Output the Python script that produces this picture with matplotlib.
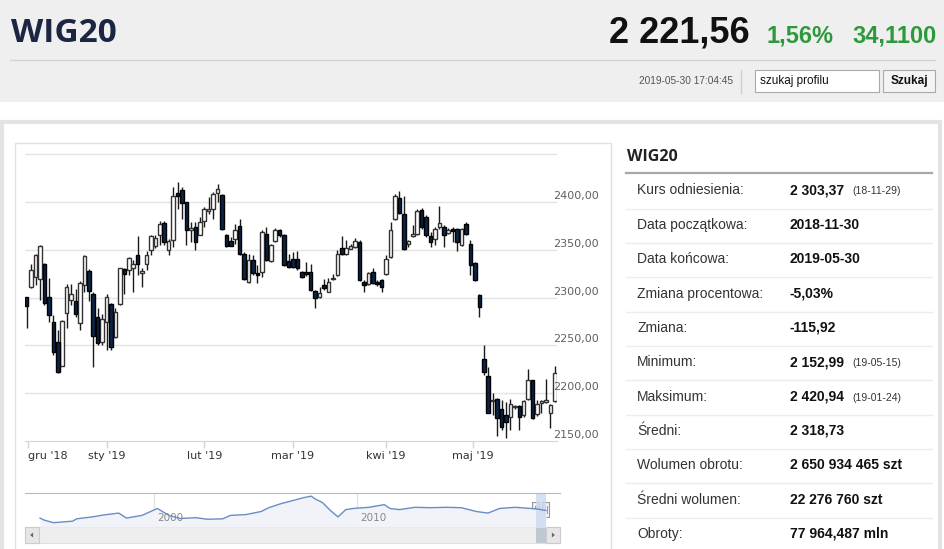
import numpy as np
import matplotlib
matplotlib.use('Agg')
from matplotlib import pyplot as plt
from matplotlib.patches import Rectangle, Polygon

W, H = 945, 549

# one candle per session, 2018-11-30 .. 2019-05-30
opens = [2300.4, 2310.8, 2321.9, 2319.1, 2334.8, 2300.4, 2275.0, 2253.2, 2228.9, 2283.8,
         2297.6, 2296.6, 2273.3, 2313.2, 2327.8, 2303.9, 2279.6, 2253.2, 2275.0, 2293.1,
         2258.4, 2293.1, 2329.6, 2328.9, 2331.3, 2344.5, 2325.4, 2335.8, 2350.4, 2354.0,
         2366.0, 2378.5, 2349.7, 2360.1, 2409.7, 2413.2, 2400.0, 2370.5, 2374.0, 2366.0,
         2379.9, 2390.3, 2393.1, 2409.7, 2407.6, 2366.0, 2359.1, 2361.1, 2375.0, 2346.2,
         2316.0, 2339.3, 2325.4, 2327.1, 2367.0, 2338.2, 2359.1, 2370.5, 2365.3, 2338.2,
         2340.3, 2341.0, 2326.4, 2327.1, 2327.1, 2307.0, 2301.1, 2313.2, 2306.3, 2319.1,
         2323.7, 2352.1, 2346.2, 2351.4, 2353.2, 2358.4, 2316.0, 2313.9, 2327.1, 2316.7,
         2318.5, 2324.4, 2342.7, 2382.0, 2404.2, 2387.9, 2356.6, 2364.3, 2367.0, 2392.0,
         2384.4, 2364.6, 2361.8, 2374.0, 2374.0, 2368.1, 2372.2, 2372.2, 2354.9, 2377.4,
         2356.6, 2336.8, 2302.8, 2236.1, 2217.7, 2192.0, 2194.4, 2184.0, 2177.1, 2174.7,
         2185.1, 2186.5, 2177.1, 2194.4, 2213.5, 2178.1, 2189.9, 2191.0, 2179.5, 2191.9]
highs = [2301.0, 2334.8, 2345.9, 2355.6, 2336.0, 2320.9, 2282.0, 2265.7, 2276.5, 2314.0,
         2314.0, 2309.0, 2317.4, 2344.5, 2329.6, 2306.3, 2289.0, 2282.7, 2303.9, 2294.9,
         2289.7, 2331.3, 2330.6, 2342.7, 2339.3, 2364.3, 2331.3, 2348.6, 2365.3, 2366.0,
         2380.0, 2379.9, 2361.8, 2415.6, 2420.9, 2415.6, 2400.7, 2379.2, 2379.2, 2384.4,
         2394.8, 2405.2, 2410.4, 2419.5, 2408.7, 2367.0, 2363.6, 2377.4, 2382.6, 2348.0,
         2346.2, 2344.5, 2334.1, 2370.5, 2374.0, 2356.6, 2372.9, 2371.5, 2367.0, 2346.2,
         2348.0, 2348.6, 2327.8, 2337.5, 2334.8, 2308.0, 2311.5, 2319.5, 2320.2, 2324.4,
         2349.7, 2364.6, 2360.1, 2356.6, 2362.5, 2360.1, 2318.5, 2327.1, 2331.3, 2318.5,
         2319.5, 2344.5, 2379.2, 2408.7, 2412.1, 2406.9, 2360.0, 2375.7, 2393.1, 2393.8,
         2386.1, 2368.8, 2374.0, 2396.5, 2375.7, 2372.5, 2374.0, 2373.0, 2373.0, 2379.2,
         2360.1, 2337.5, 2303.5, 2251.0, 2227.4, 2200.3, 2195.5, 2192.7, 2191.0, 2194.4,
         2187.5, 2187.5, 2192.7, 2225.0, 2214.0, 2193.4, 2193.4, 2215.3, 2189.2, 2228.1]
lows = [2268.8, 2309.8, 2313.0, 2297.6, 2292.4, 2275.0, 2240.4, 2221.3, 2228.2, 2268.8,
        2292.4, 2280.3, 2265.7, 2306.3, 2296.6, 2227.2, 2250.1, 2250.8, 2244.9, 2244.9,
        2257.7, 2292.4, 2303.5, 2323.7, 2306.3, 2323.7, 2311.5, 2328.9, 2344.5, 2352.0,
        2354.9, 2355.6, 2344.5, 2353.2, 2393.1, 2382.6, 2354.9, 2358.4, 2349.7, 2365.3,
        2374.0, 2387.9, 2382.6, 2400.0, 2370.5, 2353.2, 2353.8, 2356.6, 2344.5, 2318.5,
        2315.0, 2323.7, 2315.0, 2321.9, 2338.0, 2337.5, 2358.4, 2363.6, 2333.4, 2330.6,
        2331.3, 2328.9, 2320.9, 2323.0, 2307.0, 2288.9, 2300.1, 2308.0, 2305.6, 2318.1,
        2323.0, 2345.2, 2345.2, 2350.7, 2352.1, 2317.4, 2306.3, 2313.2, 2313.9, 2312.6,
        2306.3, 2323.7, 2341.7, 2380.9, 2387.9, 2349.7, 2353.2, 2363.6, 2366.0, 2372.2,
        2363.6, 2353.1, 2354.9, 2372.2, 2353.1, 2367.0, 2358.0, 2348.6, 2354.2, 2366.0,
        2324.3, 2317.4, 2280.2, 2218.8, 2178.8, 2177.1, 2155.2, 2161.5, 2153.0, 2161.5,
        2183.0, 2161.5, 2174.7, 2193.4, 2172.9, 2176.0, 2178.8, 2189.9, 2163.2, 2190.9]
closes = [2291.7, 2328.9, 2345.2, 2354.2, 2294.2, 2282.0, 2242.8, 2222.3, 2275.8, 2310.8,
          2303.9, 2282.7, 2315.0, 2343.4, 2307.0, 2260.2, 2252.5, 2277.5, 2301.1, 2248.0,
          2285.5, 2330.6, 2324.7, 2341.7, 2335.8, 2334.8, 2328.2, 2344.5, 2364.3, 2363.0,
          2377.4, 2358.4, 2359.1, 2406.2, 2406.2, 2399.3, 2370.5, 2372.9, 2358.4, 2379.2,
          2393.1, 2393.1, 2408.7, 2413.9, 2371.5, 2354.2, 2354.2, 2370.5, 2346.2, 2319.5,
          2339.3, 2325.4, 2323.7, 2368.8, 2339.3, 2354.9, 2371.2, 2365.3, 2334.1, 2332.3,
          2332.3, 2330.6, 2321.9, 2324.4, 2308.0, 2300.1, 2304.6, 2309.8, 2316.0, 2320.2,
          2346.2, 2346.2, 2352.1, 2354.2, 2359.4, 2318.5, 2313.2, 2325.4, 2315.0, 2313.9,
          2311.5, 2341.0, 2370.5, 2406.9, 2388.9, 2350.7, 2359.1, 2367.0, 2391.3, 2374.0,
          2366.0, 2358.3, 2372.2, 2378.5, 2365.3, 2371.2, 2370.1, 2358.3, 2372.2, 2367.0,
          2334.0, 2318.4, 2290.6, 2222.2, 2179.5, 2192.7, 2173.6, 2164.2, 2170.1, 2188.5,
          2186.5, 2175.4, 2191.7, 2213.5, 2173.6, 2188.5, 2191.7, 2192.4, 2188.2, 2221.6]

month_pos = [0.3, 18.0, 40.0, 60.0, 81.0, 100.6]
month_labels = ["gru '18", "sty '19", "lut '19", "mar '19", "kwi '19", "maj '19"]
grid_levels = [2200, 2250, 2300, 2350, 2400, 2450]
price_labels = [2150, 2200, 2250, 2300, 2350, 2400]

# long history shown in the navigator
nav_years = [1994.41, 1994.60, 1995.07, 1996.02, 1996.21, 1996.97, 1997.54, 1998.29, 1998.67,
             1999.43, 2000.19, 2000.76, 2001.32, 2002.08, 2002.65, 2003.41, 2003.79, 2004.55,
             2005.30, 2005.68, 2006.25, 2006.82, 2007.39, 2007.77, 2007.96, 2008.33, 2008.71,
             2009.09, 2009.47, 2009.85, 2010.61, 2011.37, 2011.65, 2012.12, 2012.88, 2013.64,
             2014.40, 2015.16, 2015.91, 2016.48, 2017.05, 2017.81, 2018.57, 2018.85, 2019.33]
nav_values = [1335, 1110, 795, 975, 1245, 1470, 1695, 1920, 1335,
              1650, 2460, 1650, 1290, 1380, 1200, 1245, 1650, 1740,
              2100, 2550, 3000, 3360, 3720, 3900, 3585, 3135, 2235,
              1470, 2325, 2460, 2595, 2910, 2460, 2325, 2595, 2550,
              2595, 2550, 2100, 1920, 2460, 2595, 2460, 2415, 2222]
nav_ticks = [2000, 2010]
nav_range = [2018.84, 2019.33]

stat_labels = ['Kurs odniesienia:', 'Data początkowa:', 'Data końcowa:', 'Zmiana procentowa:',
               'Zmiana:', 'Minimum:', 'Maksimum:', 'Średni:', 'Wolumen obrotu:',
               'Średni wolumen:', 'Obroty:']
stat_values = ['2 303,37', '2018-11-30', '2019-05-30', '-5,03%', '-115,92', '2 152,99',
               '2 420,94', '2 318,73', '2 650 934 465 szt', '22 276 760 szt', '77 964,487 mln']
stat_notes = ['(18-11-29)', '', '', '', '', '(19-05-15)', '(19-01-24)', '', '', '', '']

ARIAL = ['Liberation Sans', 'DejaVu Sans']
OPEN = ['Open Sans', 'DejaVu Sans']

fig = plt.figure(figsize=(W / 100, H / 100), dpi=100)


def px_axes(x0, y0, x1, y1):
    return fig.add_axes([x0 / W, 1 - y1 / H, (x1 - x0) / W, (y1 - y0) / H])


# page background, in pixel coordinates
bg = fig.add_axes([0, 0, 1, 1])
bg.set_xlim(0, W)
bg.set_ylim(H, 0)
bg.axis('off')
bg.add_patch(Rectangle((0, 0), W, 102, fc='#efefef', ec='none'))
bg.plot([10, 935], [60, 60], color='#d2d2d2', lw=1)
bg.text(11, 33, 'WIG20', family=OPEN, weight='bold', fontsize=24, color='#1c2541', va='center')
bg.text(750, 33, '2 221,56', family=ARIAL, weight='bold', fontsize=26, color='#111111',
        va='center', ha='right')
bg.text(767, 36, '1,56%', family=ARIAL, weight='bold', fontsize=17, color='#2c9a3c', va='center')
bg.text(937, 36, '34,1100', family=ARIAL, weight='bold', fontsize=17, color='#2c9a3c',
        va='center', ha='right')
bg.text(733, 81, '2019-05-30 17:04:45', family=ARIAL, fontsize=7.3, color='#555555',
        va='center', ha='right')
bg.plot([741, 741], [70, 93], color='#cfcfcf', lw=1)
bg.add_patch(Rectangle((755, 70), 124, 22, fc='white', ec='#aaaaaa', lw=0.8))
bg.text(760, 81, 'szukaj profilu', family=ARIAL, fontsize=8.5, color='#111111', va='center')
bg.add_patch(Rectangle((883, 70), 52, 22, fc='#f4f4f4', ec='#aaaaaa', lw=0.8))
bg.text(909, 81, 'Szukaj', family=ARIAL, weight='bold', fontsize=8.5, color='#111111',
        va='center', ha='center')

# content panel and chart frame
bg.add_patch(Rectangle((2, 122), 938, 440, fc='white', ec='#e3e3e3', lw=3))
bg.add_patch(Rectangle((15, 143), 596, 410, fc='white', ec='#e0e0e0', lw=1))

# statistics table
bg.text(627, 157, 'WIG20', family=OPEN, weight='bold', fontsize=11.5, color='#222222', va='center')
bg.plot([626, 932], [173, 173], color='#a8a8a8', lw=1.6)
for i, (lab, val, note) in enumerate(zip(stat_labels, stat_values, stat_notes)):
    y = 190.5 + i * 34.35
    bg.text(637, y, lab, family=ARIAL, fontsize=10, color='#333333', va='center')
    bg.text(790, y, val, family=ARIAL, weight='bold', fontsize=10, color='#111111', va='center')
    if note:
        bg.text(852, y + 1, note, family=ARIAL, fontsize=7.5, color='#333333', va='center')
    if i < len(stat_labels) - 1:
        bg.plot([626, 932], [y + 18, y + 18], color='#ececec', lw=1)

# candlestick chart
ax = px_axes(25, 153, 557, 441)
idx = np.arange(len(opens))
o = np.array(opens)
c = np.array(closes)
up = c >= o
body_lo = np.minimum(o, c)
body_h = np.maximum(np.abs(c - o), 0.9)
for lvl in grid_levels:
    ax.axhline(lvl, color='#e3e3e3', lw=1, zorder=0)
ax.vlines(idx, lows, highs, color='#1a1a1a', lw=1.0, zorder=2)
ax.bar(idx[up], body_h[up], bottom=body_lo[up], width=0.8, color='white',
       edgecolor='#333333', linewidth=1.0, zorder=3)
ax.bar(idx[~up], body_h[~up], bottom=body_lo[~up], width=0.8, color='#0b2548',
       edgecolor='#000000', linewidth=1.0, zorder=3)
ax.set_xlim(-0.38, 119.5)
ax.set_ylim(2150, 2451.5)
for lvl in price_labels:
    ax.text(0.9925, lvl + 6.3, '{:.2f}'.format(lvl).replace('.', ','),
            transform=ax.get_yaxis_transform(), ha='left', va='center',
            fontsize=8, color='#606060', zorder=5)
ax.set_yticks([])
ax.set_xticks(month_pos, month_labels)
ax.tick_params(axis='x', length=5, width=1, color='#ccd6eb', labelcolor='#333333',
               labelsize=8, pad=2)
ax.get_xticklabels()[0].set_ha('left')
for side in ['top', 'right', 'left']:
    ax.spines[side].set_visible(False)
ax.spines['bottom'].set_color('#ccd6eb')
ax.patch.set_alpha(0)

# navigator
NX0, NX1 = 24.6, 560.4
px_per_year = 20.3
nav = px_axes(NX0, 493, NX1, 527)
nav.set_xlim(2000 + (NX0 - 153.5) / px_per_year, 2000 + (NX1 - 153.5) / px_per_year)
nav.set_ylim(291, 4269)
nav.fill_between(nav_years, nav_values, 291, color='#f1f3f8', lw=0)
nav.plot(nav_years, nav_values, color='#6a8cc6', lw=1)
for t in nav_ticks:
    nav.axvline(t, color='#e3e3e3', lw=1, zorder=0)
    nav.annotate(str(t), xy=(t, 0.27), xycoords=('data', 'axes fraction'), xytext=(3, 0),
                 textcoords='offset points', ha='left', va='center', fontsize=7.5,
                 color='#888888')
nav.axvspan(nav_range[0], nav_range[1], color='#c9daf0', alpha=0.8, lw=0)
nav.set_xticks([])
nav.set_yticks([])
for side in ['bottom', 'right', 'left']:
    nav.spines[side].set_visible(False)
nav.spines['top'].set_color('#b8b8b8')
nav.patch.set_alpha(0)

# handles and scrollbar, in pixel coordinates
r0 = 153.5 + (nav_range[0] - 2000) * px_per_year
r1 = 153.5 + (nav_range[1] - 2000) * px_per_year
for hx in (r0, r1):
    bg.add_patch(Rectangle((hx - 3.5, 502), 7, 15, fc='#f2f2f2', ec='#999999', lw=0.8, zorder=6))
    bg.plot([hx - 1, hx - 1], [506, 513], color='#999999', lw=0.7, zorder=7)
    bg.plot([hx + 1, hx + 1], [506, 513], color='#999999', lw=0.7, zorder=7)
bg.add_patch(Rectangle((NX0, 527), NX1 - NX0, 16, fc='#eeeeee', ec='#e0e0e0', lw=0.8, zorder=4))
bg.add_patch(Rectangle((r0, 527), NX1 - 14 - r0, 16, fc='#bfc7d0', ec='none', zorder=5))
bg.add_patch(Rectangle((NX0, 527), 14, 16, fc='#e6e6e6', ec='#cccccc', lw=0.8, zorder=6))
bg.add_patch(Rectangle((NX1 - 14, 527), 14, 16, fc='#e6e6e6', ec='#cccccc', lw=0.8, zorder=6))
bg.add_patch(Polygon([[NX0 + 8.5, 532.5], [NX0 + 8.5, 537.5], [NX0 + 5.5, 535]],
                     fc='#666666', ec='none', zorder=7))
bg.add_patch(Polygon([[NX1 - 8.5, 532.5], [NX1 - 8.5, 537.5], [NX1 - 5.5, 535]],
                     fc='#666666', ec='none', zorder=7))

plt.savefig('out.png', dpi=100)
